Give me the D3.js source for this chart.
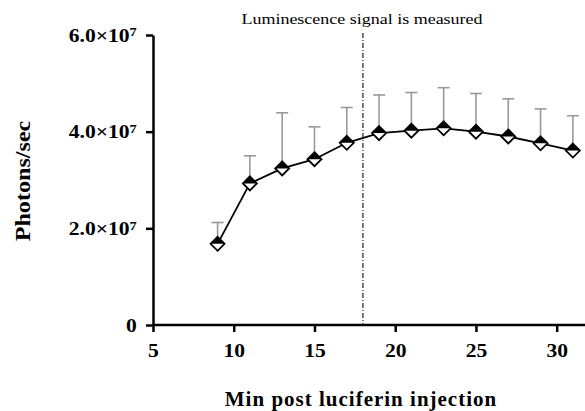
<html>
  <head>
    <meta charset="utf-8" />
    <script src="https://cdnjs.cloudflare.com/ajax/libs/d3/7.6.1/d3.min.js"></script>
    <style>
      body { margin: 0; background: #fff; }
      svg { width: 585px; height: 411px; display: block; }
      text { font-family: "Liberation Serif", "Times New Roman", serif; }
      .axis path, .axis line { stroke: #000; stroke-width: 2.5; }
      .axis text { font-size: 18px; font-weight: bold; fill: #000; }
    </style>
  </head>
  <body>
    <svg></svg>
  </body>
  <script>
    // minutes after injection, mean photons/sec and mean + SD
    var minutes = [9, 11, 13, 15, 17, 19, 21, 23, 25, 27, 29, 31];
    var photons = [1.68e7, 2.93e7, 3.24e7, 3.43e7, 3.77e7, 3.97e7, 4.02e7, 4.07e7, 4.0e7, 3.9e7, 3.76e7, 3.61e7];
    var upper = [2.12e7, 3.5e7, 4.39e7, 4.1e7, 4.5e7, 4.76e7, 4.81e7, 4.91e7, 4.79e7, 4.68e7, 4.47e7, 4.33e7];
    var xTicks = [5, 10, 15, 20, 25, 30];
    var yTicks = [0, 2e7, 4e7, 6e7];
    var markerAt = 18;

    var svg = d3.select("svg");
    var x = d3.scaleLinear().domain([5, 30]).range([153, 556.7]);
    var y = d3.scaleLinear().domain([0, 6e7]).range([325, 35]);

    // x axis
    var xAxis = d3.axisBottom(x).tickValues(xTicks).tickSize(7).tickSizeOuter(0);
    var xg = svg.append("g").attr("class", "axis").attr("transform", "translate(0,325)").call(xAxis);
    xg.select("path.domain").attr("d", "M" + x(5) + ",0H585");
    xg.selectAll("text").attr("y", 19).attr("transform", "scale(1.2,1)");

    // y axis
    var yAxis = d3.axisLeft(y).tickValues(yTicks).tickSize(7).tickSizeOuter(0);
    var yg = svg.append("g").attr("class", "axis").attr("transform", "translate(153,0)").call(yAxis);
    yg.selectAll(".tick text").each(function (d) {
      var t = d3.select(this).text("").attr("x", -13.5).attr("dy", "0.35em")
        .attr("transform", "scale(1.2,1)");
      if (d === 0) { t.text("0"); return; }
      var m = d / 1e7;
      t.append("tspan").text(m.toFixed(1) + "\u00d710");
      t.append("tspan").attr("dy", "-0.45em").attr("font-size", "12px").text("7");
    });

    // dash-dot marker line
    svg.append("line")
      .attr("x1", x(markerAt)).attr("x2", x(markerAt))
      .attr("y1", 33).attr("y2", 325)
      .attr("stroke", "#222").attr("stroke-width", 1.2)
      .attr("stroke-dasharray", "5,2,1,2");

    svg.append("text")
      .attr("transform", "translate(362,24) scale(1.2,1)")
      .attr("text-anchor", "middle")
      .attr("font-size", "15px")
      .text("Luminescence signal is measured");

    // error bars (upper only)
    var eb = svg.append("g").attr("stroke", "#999").attr("stroke-width", 1.6);
    minutes.forEach(function (m, i) {
      eb.append("line").attr("x1", x(m)).attr("x2", x(m)).attr("y1", y(photons[i])).attr("y2", y(upper[i]));
      eb.append("line").attr("x1", x(m) - 6).attr("x2", x(m) + 6).attr("y1", y(upper[i])).attr("y2", y(upper[i]));
    });

    // mean line
    var line = d3.line().x(function (d, i) { return x(minutes[i]); }).y(function (d) { return y(d); });
    svg.append("path").datum(photons).attr("d", line)
      .attr("fill", "none").attr("stroke", "#000").attr("stroke-width", 1.8);

    // half-filled diamonds
    var r = 7;
    var pts = svg.append("g").selectAll("g").data(photons).enter().append("g")
      .attr("transform", function (d, i) { return "translate(" + x(minutes[i]) + "," + y(d) + ")"; });
    pts.append("path").attr("d", "M0," + -r + "L" + r + ",0L0," + r + "L" + -r + ",0Z")
      .attr("fill", "#fff").attr("stroke", "#000").attr("stroke-width", 1.8);
    pts.append("path").attr("d", "M0," + -r + "L" + r + ",0H" + -r + "Z").attr("fill", "#000");

    // axis titles
    svg.append("text")
      .attr("transform", "translate(30,181) rotate(-90) scale(1.15,1)")
      .attr("text-anchor", "middle")
      .attr("font-size", "21px").attr("font-weight", "bold")
      .text("Photons/sec");

    svg.append("text")
      .attr("x", 361).attr("y", 406)
      .attr("text-anchor", "middle")
      .attr("font-size", "21px").attr("font-weight", "bold")
      .attr("letter-spacing", "1px")
      .text("Min post luciferin injection");
  </script>
</html>
